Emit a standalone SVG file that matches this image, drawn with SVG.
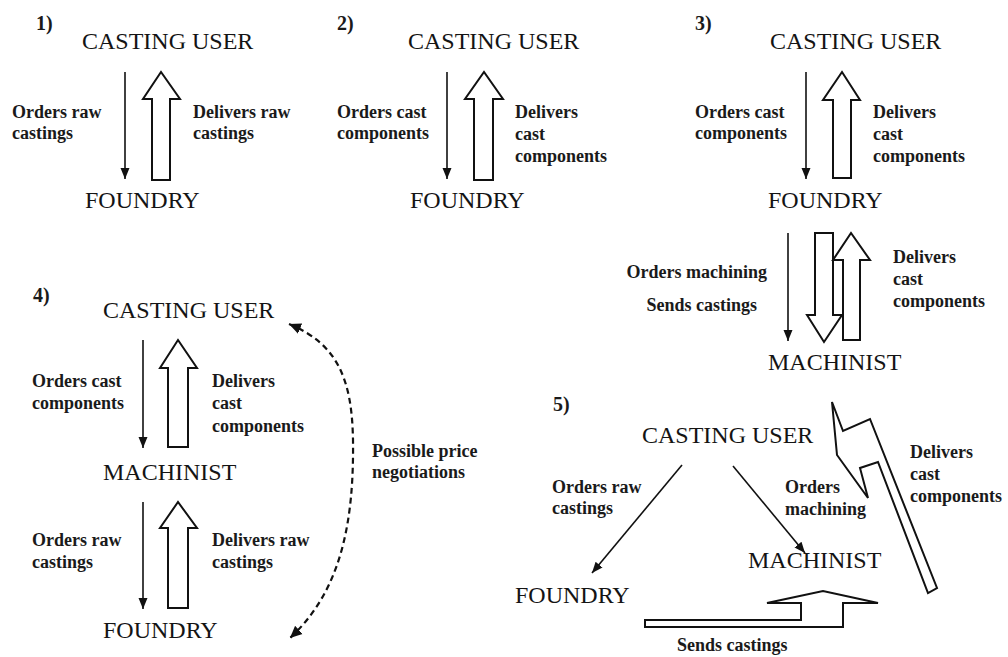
<svg xmlns="http://www.w3.org/2000/svg" width="1008" height="657" viewBox="0 0 1008 657">
<style>
.node{font-family:"Liberation Serif","Times New Roman",serif;font-size:24px;fill:#141414}
.lbl{font-family:"Liberation Serif","Times New Roman",serif;font-size:18px;font-weight:bold;fill:#1a1a1a}
.num{font-family:"Liberation Serif","Times New Roman",serif;font-size:20px;font-weight:bold;fill:#1a1a1a}
.thin{fill:none;stroke:#111;stroke-width:1.6;marker-end:url(#ah)}
.block{fill:#fff;stroke:#111;stroke-width:2;stroke-linejoin:miter}
.dash{fill:none;stroke:#111;stroke-width:2.2;stroke-dasharray:6 4;marker-start:url(#ahs);marker-end:url(#ah2)}
</style>
<defs>
<marker id="ah" markerUnits="userSpaceOnUse" markerWidth="12" markerHeight="12" viewBox="0 0 12 12" refX="11" refY="6" orient="auto"><path d="M0 1.5 L11 6 L0 10.5 Z" fill="#111"/></marker>
<marker id="ah2" markerUnits="userSpaceOnUse" markerWidth="14" markerHeight="14" viewBox="0 0 14 14" refX="12" refY="7" orient="auto"><path d="M0 1.5 L12 7 L0 12.5 Z" fill="#111"/></marker>
<marker id="ahs" markerUnits="userSpaceOnUse" markerWidth="14" markerHeight="14" viewBox="0 0 14 14" refX="2" refY="7" orient="auto"><path d="M14 1.5 L2 7 L14 12.5 Z" fill="#111"/></marker>
</defs>
<rect width="1008" height="657" fill="#fff"/>

<g id="connectors">
  <!-- panel 1 -->
  <line class="thin" x1="125" y1="72" x2="125" y2="179"/>
  <path class="block" d="M152 180 L152 99 L143 99 L161 72 L180 99 L170 99 L170 180 Z"/>
  <!-- panel 2 -->
  <line class="thin" x1="447" y1="72" x2="447" y2="179"/>
  <path class="block" d="M474 180 L474 99 L465 99 L484 72 L503 99 L493 99 L493 180 Z"/>
  <!-- panel 3 upper -->
  <line class="thin" x1="806" y1="72" x2="806" y2="179"/>
  <path class="block" d="M833 178 L833 100 L823 100 L842 72 L860 100 L851 100 L851 178 Z"/>
  <!-- panel 3 lower -->
  <line class="thin" x1="788" y1="233" x2="788" y2="341"/>
  <path class="block" d="M815 233 L833 233 L833 315 L842 315 L824 342 L807 315 L815 315 Z"/>
  <path class="block" d="M843 340 L843 260 L833 260 L851 233 L870 260 L860 260 L860 340 Z"/>
  <!-- panel 4 -->
  <line class="thin" x1="143" y1="340" x2="143" y2="448"/>
  <path class="block" d="M168 447 L168 368 L160 368 L178 340 L197 368 L188 368 L188 447 Z"/>
  <line class="thin" x1="143" y1="502" x2="143" y2="609"/>
  <path class="block" d="M168 608 L168 528 L160 528 L178 502 L197 528 L188 528 L188 608 Z"/>
  <path class="dash" d="M289 324 C338 344 352 380 353 440 C354 520 342 590 290 638"/>
  <!-- panel 5 -->
  <line class="thin" x1="682" y1="465" x2="592" y2="573"/>
  <line class="thin" x1="733" y1="466" x2="805" y2="553"/>
  <path class="block" d="M645 620 L801 620 L801 603 L767 603 L823 591 L878 603 L843 603 L843 627 L645 627 Z"/>
  <path class="block" d="M832 402 L843 431 L870 419 L937 588 L928 593 L878 462 L860 468 L868 498 L837 455 Z"/>
</g>

<g id="panel1">
  <text class="num" x="36" y="30">1)</text>
  <g id="p1-user"><text class="node" x="82" y="49">CASTING USER</text></g>
  <g id="p1-foundry"><text class="node" x="85" y="208">FOUNDRY</text></g>
  <text class="lbl" x="12" y="118">Orders raw</text>
  <text class="lbl" x="12" y="139">castings</text>
  <text class="lbl" x="193" y="118">Delivers raw</text>
  <text class="lbl" x="193" y="139">castings</text>
</g>

<g id="panel2">
  <text class="num" x="337" y="30">2)</text>
  <g id="p2-user"><text class="node" x="408" y="49">CASTING USER</text></g>
  <g id="p2-foundry"><text class="node" x="410" y="208">FOUNDRY</text></g>
  <text class="lbl" x="337" y="118">Orders cast</text>
  <text class="lbl" x="337" y="139">components</text>
  <text class="lbl" x="515" y="118">Delivers</text>
  <text class="lbl" x="515" y="140">cast</text>
  <text class="lbl" x="515" y="162">components</text>
</g>

<g id="panel3">
  <text class="num" x="695" y="30">3)</text>
  <g id="p3-user"><text class="node" x="770" y="49">CASTING USER</text></g>
  <g id="p3-foundry"><text class="node" x="768" y="208">FOUNDRY</text></g>
  <g id="p3-machinist"><text class="node" x="768" y="370">MACHINIST</text></g>
  <text class="lbl" x="695" y="118">Orders cast</text>
  <text class="lbl" x="695" y="139">components</text>
  <text class="lbl" x="873" y="118">Delivers</text>
  <text class="lbl" x="873" y="140">cast</text>
  <text class="lbl" x="873" y="162">components</text>
  <text class="lbl" x="767" y="278" text-anchor="end">Orders machining</text>
  <text class="lbl" x="757" y="311" text-anchor="end">Sends castings</text>
  <text class="lbl" x="893" y="263">Delivers</text>
  <text class="lbl" x="893" y="285">cast</text>
  <text class="lbl" x="893" y="307">components</text>
</g>

<g id="panel4">
  <text class="num" x="33" y="302">4)</text>
  <g id="p4-user"><text class="node" x="103" y="318">CASTING USER</text></g>
  <g id="p4-machinist"><text class="node" x="103" y="480">MACHINIST</text></g>
  <g id="p4-foundry"><text class="node" x="103" y="638">FOUNDRY</text></g>
  <text class="lbl" x="32" y="387">Orders cast</text>
  <text class="lbl" x="32" y="409">components</text>
  <text class="lbl" x="212" y="387">Delivers</text>
  <text class="lbl" x="212" y="409">cast</text>
  <text class="lbl" x="212" y="432">components</text>
  <text class="lbl" x="32" y="546">Orders raw</text>
  <text class="lbl" x="32" y="568">castings</text>
  <text class="lbl" x="212" y="546">Delivers raw</text>
  <text class="lbl" x="212" y="568">castings</text>
  <text class="lbl" x="372" y="457">Possible price</text>
  <text class="lbl" x="372" y="478">negotiations</text>
</g>

<g id="panel5">
  <text class="num" x="553" y="411">5)</text>
  <g id="p5-user"><text class="node" x="642" y="443">CASTING USER</text></g>
  <g id="p5-machinist"><text class="node" x="748" y="568">MACHINIST</text></g>
  <g id="p5-foundry"><text class="node" x="515" y="603">FOUNDRY</text></g>
  <text class="lbl" x="552" y="493">Orders raw</text>
  <text class="lbl" x="552" y="514">castings</text>
  <text class="lbl" x="785" y="493">Orders</text>
  <text class="lbl" x="785" y="515">machining</text>
  <text class="lbl" x="910" y="458">Delivers</text>
  <text class="lbl" x="910" y="480">cast</text>
  <text class="lbl" x="910" y="502">components</text>
  <text class="lbl" x="677" y="651">Sends castings</text>
</g>
</svg>
